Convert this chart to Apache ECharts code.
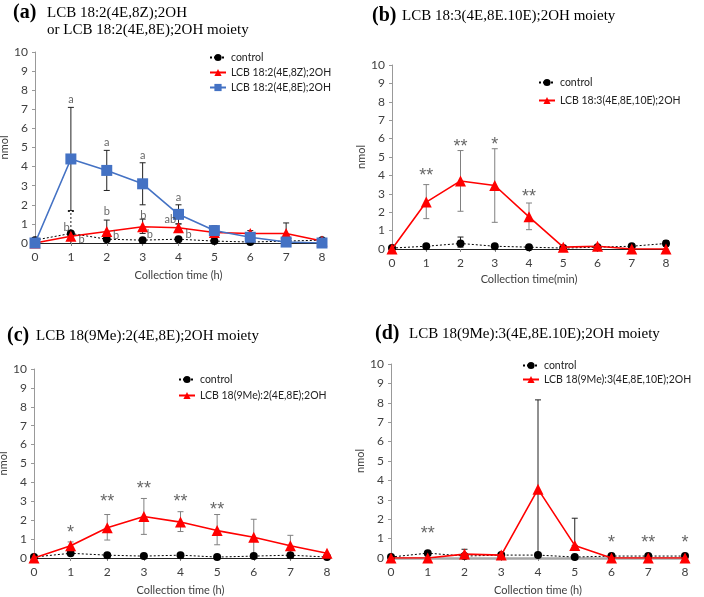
<!DOCTYPE html>
<html><head><meta charset="utf-8">
<script src="https://cdn.jsdelivr.net/npm/echarts@6.0.0/dist/echarts.min.js"></script>
<style>html,body{margin:0;padding:0;background:#fff}#c{width:704px;height:597px}</style>
</head><body><div id="c"></div>
<script>
// ---- data ----
const xs = [0,1,2,3,4,5,6,7,8];
const xTicks = ['0','1','2','3','4','5','6','7','8'];

// panel (a)
const aControl = [0.15,0.5,0.2,0.15,0.2,0.1,0.05,0.1,0.15];
const a8Z = [0,0.35,0.6,0.85,0.8,0.55,0.5,0.5,0.1];
const a8E = [0,4.4,3.8,3.1,1.5,0.65,0.3,0.05,0];
const a8EErr = [[1,1.7,7.1],[2,2.75,4.85],[3,2.0,4.2],[4,1.0,2.0],[5,0.4,0.9]];
const a8ZErr = [[2,0.1,1.2],[3,0.5,1.25],[4,0.6,1.0],[6,0.35,0.65],[7,0,1.05]];
const aCtrlErr = [[1,0,1.65]];
const aLetters = [[1,7.5,'a'],[2,5.25,'a'],[3,4.6,'a'],[4,2.4,'a'],[0.88,0.82,'b'],[1.3,0.17,'b'],[2,1.63,'b'],[2.26,0.38,'b'],[3.02,1.43,'b'],[3.2,0.43,'b'],[3.77,1.22,'ab'],[4.28,0.47,'b']];

// panel (b)
const bControl = [0.05,0.15,0.3,0.15,0.1,0.05,0.1,0.15,0.3];
const bLCB = [0,2.55,3.7,3.45,1.75,0.1,0.15,0,0];
const bErr = [[1,1.65,3.5],[2,2.05,5.35],[3,1.45,5.45],[4,1.05,2.5]];
const bCtrlErr = [[2,0.1,0.65],[8,0.15,0.45]];
const bStars = [[1,3.95,'**'],[2,5.55,'**'],[3,5.65,'*'],[4,2.85,'**']];

// panel (c)
const cControl = [0.05,0.25,0.15,0.1,0.15,0.05,0.1,0.15,0.05];
const cLCB = [0,0.65,1.6,2.2,1.9,1.45,1.1,0.65,0.25];
const cErr = [[1,0.45,0.85],[2,0.95,2.3],[3,1.25,3.15],[4,1.4,2.45],[5,0.7,2.3],[6,0.15,2.05],[7,0.1,1.2]];
const cStars = [[1,1.3,'*'],[2,2.95,'**'],[3,3.65,'**'],[4,2.95,'**'],[5,2.55,'**']];

// panel (d)
const dControl = [0.05,0.25,0.1,0.15,0.15,0.05,0.1,0.1,0.1];
const dLCB = [0,0,0.2,0.15,3.55,0.65,0,0,0];
const dErr = [[2,0,0.45],[4,0,8.15],[5,0.65,2.05]];
const dStars = [[1,1.25,'**'],[6,0.75,'*'],[7,0.75,'**'],[8,0.75,'*']];

const names = {
  a1:'LCB 18:2(4E,8Z);2OH', a2:'LCB 18:2(4E,8E);2OH',
  b:'LCB 18:3(4E,8E,10E);2OH', c:'LCB 18(9Me):2(4E,8E);2OH', d:'LCB 18(9Me):3(4E,8E,10E);2OH'
};

// ---- build ----
const tickFont = 'Lato, "Open Sans", sans-serif';
const starFont = '"Liberation Sans", Arial, sans-serif';
const grids = [
  {left:35, top:52, width:287, height:191},
  {left:392, top:65, width:274, height:184},
  {left:34, top:369, width:293, height:189},
  {left:391, top:364, width:294, height:194}
];
const xNames = ['Collection time (h)','Collection time(min)','Collection time (h)','Collection time (h)'];
const xLine = [{color:'#222', width:1.2},{color:'#222', width:1.2},{color:'#222', width:1.2},{color:'#A6A6A6', width:2.5}];

function pairs(v){ return xs.map((x,i)=>[x,v[i]]); }
function ctrlSeries(idx, v){
  return {type:'line', name:'control', xAxisIndex:idx, yAxisIndex:idx, data:pairs(v), z:3,
    symbol:'circle', symbolSize:8, itemStyle:{color:'#000'},
    lineStyle:{color:'#000', width:1, type:[2,2]}};
}
function redSeries(idx, name, v){
  return {type:'line', name, xAxisIndex:idx, yAxisIndex:idx, data:pairs(v), z:4,
    symbol:'triangle', symbolSize:11, itemStyle:{color:'#FF0000'},
    lineStyle:{color:'#FF0000', width:1.6}};
}
function blueSeries(idx, name, v){
  return {type:'line', name, xAxisIndex:idx, yAxisIndex:idx, data:pairs(v), z:5,
    symbol:'rect', symbolSize:11, itemStyle:{color:'#4472C4'},
    lineStyle:{color:'#4472C4', width:1.6}};
}
function errSeries(idx, data, color, dashed){
  return {type:'custom', xAxisIndex:idx, yAxisIndex:idx, data, z:2, silent:true,
    encode:{x:0, y:[1,2]},
    renderItem(params, api){
      const x=api.value(0), lo=api.value(1), hi=api.value(2);
      const p1=api.coord([x,lo]), p2=api.coord([x,hi]);
      const w=3;
      const style={stroke:color, lineWidth:1, lineDash: dashed?[2,2]:null};
      const ch=[
        {type:'line', shape:{x1:p1[0],y1:p1[1],x2:p2[0],y2:p2[1]}, style},
        {type:'line', shape:{x1:p2[0]-w,y1:p2[1],x2:p2[0]+w,y2:p2[1]}, style}];
      if (lo>0) ch.push({type:'line', shape:{x1:p1[0]-w,y1:p1[1],x2:p1[0]+w,y2:p1[1]}, style});
      return {type:'group', children:ch};
    }};
}
function annSeries(idx, data, size, font){
  return {type:'scatter', xAxisIndex:idx, yAxisIndex:idx, data, z:6, silent:true,
    symbolSize:1, itemStyle:{color:'rgba(0,0,0,0)'},
    label:{show:true, position:'inside', formatter:p=>p.value[2], color:'#404040',
      fontSize:size, fontFamily:font}};
}

const option = {
  animation:false,
  backgroundColor:'#fff',
  grid: grids.map(g=>Object.assign({outerBoundsMode:'none', containLabel:false}, g)),
  xAxis: grids.map((g,i)=>({gridIndex:i, type:'value', min:0, max:8, interval:1,
    name:xNames[i], nameLocation:'middle', nameGap: i===1?25:27,
    nameTextStyle:{fontSize:11, color:'#404040', fontFamily:tickFont},
    axisLine:{show:true, onZero:false, lineStyle:xLine[i]},
    axisTick:{show:true, length:3, lineStyle:{color:'#888'}},
    axisLabel:{fontSize:12, color:'#404040', margin:8, fontFamily:tickFont,
      formatter:v=>xTicks[v]},
    splitLine:{show:false}})),
  yAxis: grids.map((g,i)=>({gridIndex:i, type:'value', min:0, max:10, interval:1,
    name:'nmol', nameLocation:'middle', nameGap:25, nameRotate:90,
    nameTextStyle:{fontSize:11, color:'#404040', fontFamily:tickFont},
    axisLine:{show:true, lineStyle:{color:'#999', width:1}},
    axisTick:{show:true, length:3, lineStyle:{color:'#999'}},
    axisLabel:{fontSize:12, color:'#404040', margin:7, fontFamily:tickFont},
    splitLine:{show:false}})),
  legend: [
    {data:['control', names.a1, names.a2], left:209, top:52, itemGap:4},
    {data:['control', names.b], left:538, top:77, itemGap:7},
    {data:['control', names.c], left:178, top:374, itemGap:5},
    {data:['control', names.d], left:522, top:360, itemGap:3}
  ].map(l=>Object.assign({orient:'vertical', padding:0, itemWidth:16, itemHeight:9, selectedMode:false,
    textStyle:{fontSize:10.5, color:'#222', fontFamily:tickFont}}, l)),
  graphic: [
    {type:'text', left:13, top:3, style:{text:'(a)', font:'bold 20px "Liberation Serif", serif', fill:'#000'}},
    {type:'text', left:47, top:6, style:{text:'LCB 18:2(4E,8Z);2OH', font:'15px "Liberation Serif", serif', fill:'#000'}},
    {type:'text', left:47, top:23, style:{text:'or LCB 18:2(4E,8E);2OH moiety', font:'15px "Liberation Serif", serif', fill:'#000'}},
    {type:'text', left:372, top:6, style:{text:'(b)', font:'bold 20px "Liberation Serif", serif', fill:'#000'}},
    {type:'text', left:402, top:9, style:{text:'LCB 18:3(4E,8E.10E);2OH moiety', font:'15px "Liberation Serif", serif', fill:'#000'}},
    {type:'text', left:7, top:326, style:{text:'(c)', font:'bold 20px "Liberation Serif", serif', fill:'#000'}},
    {type:'text', left:36, top:329, style:{text:'LCB 18(9Me):2(4E,8E);2OH moiety', font:'15px "Liberation Serif", serif', fill:'#000'}},
    {type:'text', left:375, top:324, style:{text:'(d)', font:'bold 20px "Liberation Serif", serif', fill:'#000'}},
    {type:'text', left:409, top:327, style:{text:'LCB 18(9Me):3(4E,8E.10E);2OH moiety', font:'15px "Liberation Serif", serif', fill:'#000'}}
  ],
  series: [
    errSeries(0, a8EErr, '#222', false),
    errSeries(0, a8ZErr, '#222', false),
    errSeries(0, aCtrlErr, '#222', true),
    ctrlSeries(0, aControl), redSeries(0, names.a1, a8Z), blueSeries(0, names.a2, a8E),
    annSeries(0, aLetters, 11, tickFont),
    errSeries(1, bErr, '#808080', false),
    errSeries(1, bCtrlErr, '#222', false),
    ctrlSeries(1, bControl), redSeries(1, names.b, bLCB),
    annSeries(1, bStars, 18, starFont),
    errSeries(2, cErr, '#808080', false),
    ctrlSeries(2, cControl), redSeries(2, names.c, cLCB),
    annSeries(2, cStars, 18, starFont),
    errSeries(3, dErr, '#222', false),
    ctrlSeries(3, dControl), redSeries(3, names.d, dLCB),
    annSeries(3, dStars, 18, starFont)
  ]
};
const chart = echarts.init(document.getElementById('c'), null, {renderer:'canvas'});
chart.setOption(option);
</script></body></html>
